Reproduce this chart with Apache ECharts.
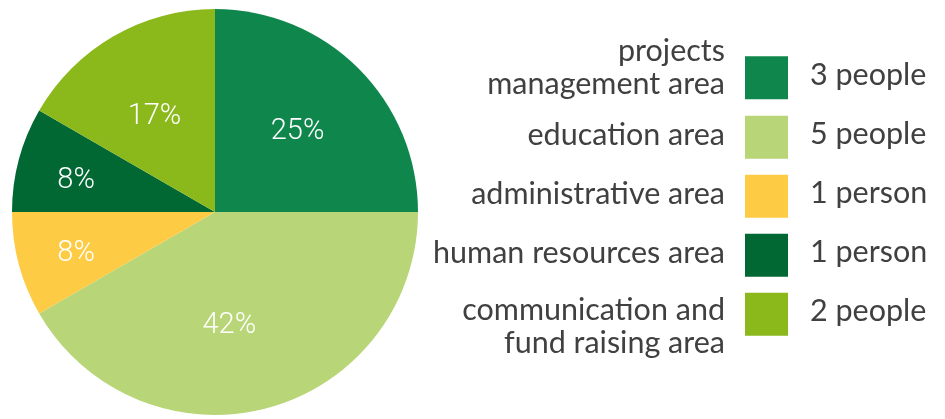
<!DOCTYPE html>
<html>
<head>
<meta charset="utf-8">
<script src="https://cdn.jsdelivr.net/npm/echarts@6/dist/echarts.min.js"></script>
<style>
html,body{margin:0;padding:0;background:#fff;}
#chart{width:945px;height:419px;}
</style>
</head>
<body>
<div id="chart"></div>
<script>
// ---- data ----
var categories = ['projects\nmanagement area', 'education area', 'administrative area', 'human resources area', 'communication and\nfund raising area'];
var peopleCounts = [3, 5, 1, 1, 2];
var countLabels = ['3 people', '5 people', '1 person', '1 person', '2 people'];
var sliceColors = ['#0F874C', '#B8D678', '#FECB45', '#016834', '#8BB81B'];

var chart = echarts.init(document.getElementById('chart'));

var pieData = categories.map(function (c, i) {
  return { name: c, value: peopleCounts[i], itemStyle: { color: sliceColors[i] } };
});
var labelOffsets = [[-3, 5], [-17, -3], [-22, 10], [-22, 0], [0, 10]];
var labelData = categories.map(function (c, i) {
  return { name: c, value: peopleCounts[i], label: { offset: labelOffsets[i] } };
});

var txt = { fontFamily: 'Lato', fontSize: 30.5, lineHeight: 33, color: '#404040' };
function tokenStyle(lineHeight, padding) { return Object.assign({}, txt, { lineHeight: lineHeight, padding: padding }); }
// rich styles per legend item / line (n<item>l<line>)
var nameRich = {
  n0l0: tokenStyle(13, [0, 15, 23, 0]),
  n0l1: tokenStyle(30, [0, 15, 0, 0]),
  n1l0: tokenStyle(33, [0, 15, 4, 0]),
  n2l0: tokenStyle(33, [0, 15, 4, 0]),
  n3l0: tokenStyle(33, [0, 15, 4, 0]),
  n4l0: tokenStyle(30, [0, 15, 0, 0]),
  n4l1: tokenStyle(9, [27, 15, 0, 0])
};

var option = {
  animation: false,
  backgroundColor: '#ffffff',
  legend: [{
    orient: 'vertical', right: 157, top: 35.75, padding: 0, align: 'right',
    icon: 'rect', itemWidth: 43, itemHeight: 43, itemGap: 16,
    selectedMode: false,
    textStyle: Object.assign({}, txt, { rich: nameRich }),
    data: categories,
    formatter: function (name) {
      var i = categories.indexOf(name);
      return name.split('\n').map(function (l, j) { return '{n' + i + 'l' + j + '|' + l + '}'; }).join('\n');
    }
  }, {
    orient: 'vertical', left: 804, top: 56, padding: 0, align: 'left',
    icon: 'rect', itemWidth: 1, itemHeight: 43, itemGap: 16,
    itemStyle: { opacity: 0 },
    selectedMode: false,
    textStyle: Object.assign({}, txt, { rich: { v: tokenStyle(33, [0, 0, 4, 0]) } }),
    data: categories,
    formatter: function (name) { return '{v|' + countLabels[categories.indexOf(name)] + '}'; }
  }],
  series: [{
    type: 'pie',
    center: [215, 212],
    radius: [0, 203],
    startAngle: 90,
    clockwise: true,
    label: { show: false },
    labelLine: { show: false },
    itemStyle: { borderWidth: 0 },
    emphasis: { disabled: true },
    data: pieData
  }, {
    type: 'pie',
    center: [215, 212],
    radius: [0, 236],
    startAngle: 90,
    clockwise: true,
    silent: true,
    itemStyle: { color: 'rgba(0,0,0,0)', borderWidth: 0 },
    label: {
      show: true, position: 'inside', formatter: '{d}%',
      color: '#ffffff', fontFamily: 'Roboto', fontWeight: 300, fontSize: 29
    },
    labelLine: { show: false },
    emphasis: { disabled: true },
    percentPrecision: 0,
    data: labelData
  }]
};
chart.setOption(option);
</script>
</body>
</html>
